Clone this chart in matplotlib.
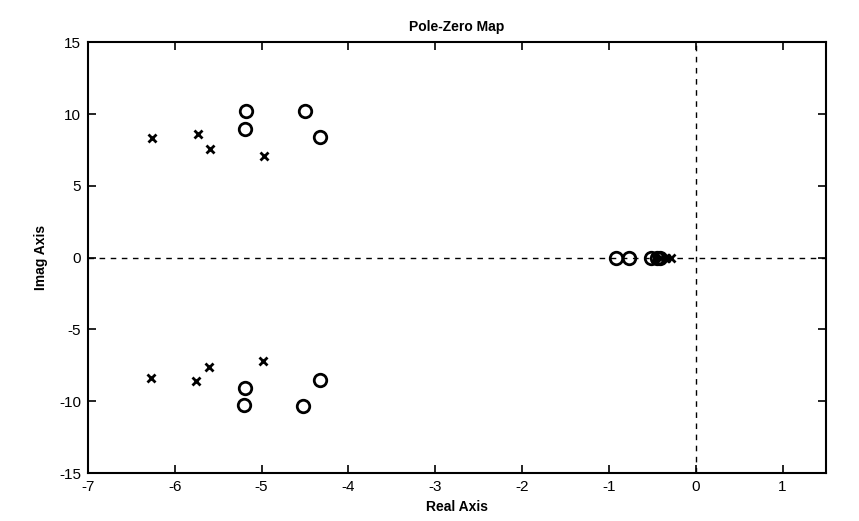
import matplotlib
matplotlib.use("Agg")
import matplotlib.pyplot as plt

# Poles (x markers)
pole_re = [-6.26, -5.73, -5.60, -4.97, -6.27, -5.75, -5.61, -4.98, -0.47, -0.40, -0.34, -0.29]
pole_im = [8.34, 8.58, 7.57, 7.08, -8.41, -8.60, -7.62, -7.20, 0.0, 0.0, 0.0, 0.0]
# Zeros (o markers)
zero_re = [-5.18, -5.19, -4.50, -4.33, -5.19, -5.20, -4.33, -4.52, -0.92, -0.77, -0.52, -0.45, -0.41]
zero_im = [10.2, 8.97, 10.2, 8.39, -9.07, -10.23, -8.55, -10.3, 0.0, 0.0, 0.0, 0.0, 0.0]

xticks = [-7, -6, -5, -4, -3, -2, -1, 0, 1]
yticks = [-15, -10, -5, 0, 5, 10, 15]

plt.rcParams['font.family'] = ['Liberation Sans', 'DejaVu Sans']

fig = plt.figure(figsize=(8.59, 5.21), dpi=100)
ax = fig.add_axes([0.1024, 0.092, 0.8592, 0.827])

ax.axhline(0, color='black', linestyle=(0, (4, 4)), linewidth=1.0, zorder=1)
ax.axvline(0, color='black', linestyle=(0, (4, 4)), linewidth=1.0, zorder=1)

ax.plot(zero_re, zero_im, linestyle='none', marker='o', markersize=9,
        markerfacecolor='none', markeredgecolor='black', markeredgewidth=2.0, zorder=3)
ax.plot(pole_re, pole_im, linestyle='none', marker='x', markersize=6,
        markeredgecolor='black', markeredgewidth=2.0, zorder=3)

ax.set_xlim(-7, 1.5)
ax.set_ylim(-15, 15)
ax.set_xticks(xticks)
ax.set_yticks(yticks)
ax.set_xticklabels([str(t) for t in xticks], fontsize=11)
ax.set_yticklabels([str(t) for t in yticks], fontsize=11)
ax.tick_params(direction='in', length=6, width=1.2, top=True, right=True, pad=5)
for s in ax.spines.values():
    s.set_linewidth(1.5)

ax.set_title('Pole-Zero Map', fontsize=10, fontweight='bold', pad=8)
ax.set_xlabel('Real Axis', fontsize=10, fontweight='bold', labelpad=4)
ax.set_ylabel('Imag Axis', fontsize=10, fontweight='bold', labelpad=8)

fig.savefig('out.png', dpi=100)
